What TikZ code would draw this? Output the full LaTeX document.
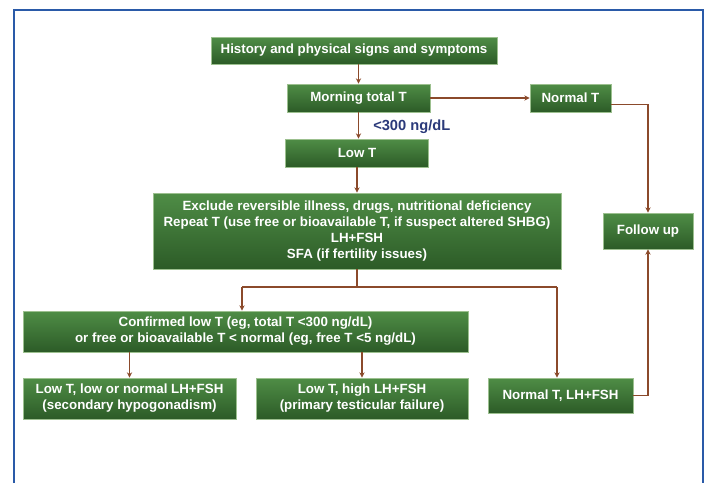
\documentclass[tikz,border=0pt]{standalone}
\usepackage{fontspec}
\setmainfont{Liberation Sans}
\usetikzlibrary{arrows.meta}

\definecolor{boxtop}{HTML}{4F8D46}
\definecolor{boxbot}{HTML}{2C5B27}
\definecolor{boxline}{HTML}{9CC08F}
\definecolor{linkcol}{HTML}{8B4A2B}
\definecolor{framecol}{HTML}{2A5AA8}
\definecolor{labelcol}{HTML}{2B3A7A}

\begin{document}
\begin{tikzpicture}[x=0.75pt,y=-0.75pt,
  box/.style={draw=boxline,line width=0.6pt,top color=boxtop,bottom color=boxbot,
    text=white,font=\fontsize{10}{12}\selectfont\bfseries,align=center,inner sep=0pt},
  arr/.style={draw=linkcol,line width=1pt,-{Stealth[length=4pt,width=4pt]}},
  link/.style={draw=linkcol,line width=1pt}]

\useasboundingbox (0,0) rectangle (705,483);

% frame, open at the bottom
\draw[framecol,line width=0.8pt] (14,483) -- (14,10) -- (703,10) -- (703,483);

% top column
\node[box,minimum width=214.5pt,minimum height=20.25pt] (hist) at (354,50.5) {History and physical signs and symptoms};
\node[box,minimum width=107.25pt,minimum height=21pt] (morning) at (358.5,98) {Morning total T};
\node[box,minimum width=60.75pt,minimum height=21pt] (normal) at (570.5,98) {Normal T};
\node[box,minimum width=107.25pt,minimum height=21pt] (lowt) at (357,153) {Low T};
\node[box,minimum width=306pt,minimum height=57pt] (exclude) at (357,231) {Exclude reversible illness, drugs, nutritional deficiency\\Repeat T (use free or bioavailable T, if suspect altered SHBG)\\LH+FSH\\SFA (if fertility issues)};
\node[box,minimum width=67.5pt,minimum height=27pt] (follow) at (648,231) {Follow up};

\node[font=\fontsize{11}{13}\selectfont\bfseries,text=labelcol,anchor=west,inner sep=0pt] (cutoff) at (373,127) {<300 ng/dL};

% bottom rows
\node[box,minimum width=333.75pt,minimum height=30.75pt] (confirmed) at (245.5,331.5) {Confirmed low T (eg, total T <300 ng/dL)\\or free or bioavailable T < normal (eg, free T <5 ng/dL)};
\node[box,minimum width=159.75pt,minimum height=30.75pt] (secondary) at (129.5,398.5) {Low T, low or normal LH+FSH\\(secondary hypogonadism)};
\node[box,minimum width=159pt,minimum height=30.75pt] (primary) at (362,398.5) {Low T, high LH+FSH\\(primary testicular failure)};
\node[box,minimum width=108.75pt,minimum height=26.25pt] (normlh) at (560.5,395.5) {Normal T, LH+FSH};

\coordinate (jl) at (242,287);
\coordinate (jr) at (557,287);

\draw[arr] (hist.south -| morning.north) -- (morning.north);
\draw[arr] (morning) -- (normal);
\draw[arr] (morning.south) -- (morning.south |- lowt.north);
\draw[arr] (lowt.south -| exclude.north) -- (exclude.north);

% normal T goes to follow up
\draw[arr] ([yshift=-5pt]normal.east) -| (follow.north);
\draw[arr] (normlh.east) -| (follow.south);

% split below the big box
\draw[link] (exclude.south) -- (exclude.south |- jl);
\draw[link] (jl) -- (jr);
\draw[arr] (jl) -- (jl |- confirmed.north);
\draw[arr] (jr) -- (jr |- normlh.north);

\draw[arr] (secondary.north |- confirmed.south) -- (secondary.north);
\draw[arr] (primary.north |- confirmed.south) -- (primary.north);
\end{tikzpicture}
\end{document}
